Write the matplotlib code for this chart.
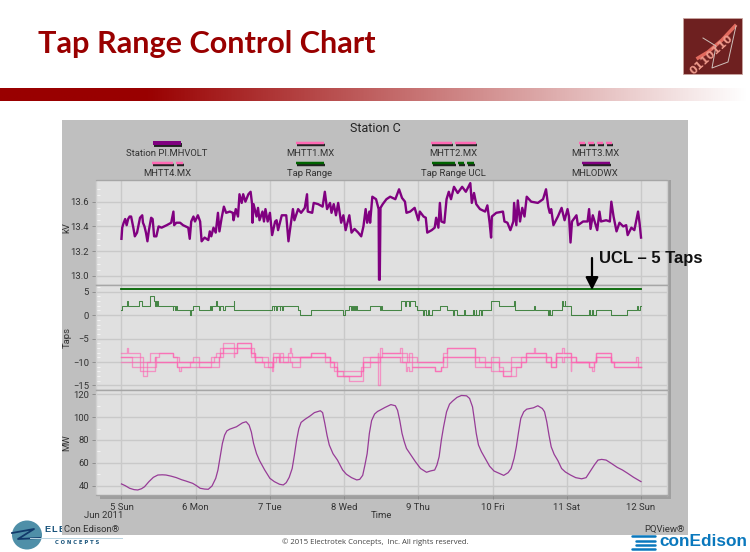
import numpy as np
import matplotlib
matplotlib.use("Agg")
import matplotlib.pyplot as plt
from matplotlib.patches import Rectangle, Ellipse

# ---- data (day of June 2011, value) ----
kv_t = [5.00,5.01,5.03,5.05,5.07,5.09,5.11,5.13,5.16,5.18,5.21,5.25,5.28,5.29,5.31,5.33,5.35,5.37,5.40,5.42,5.44,5.47,5.50,5.54,5.61,5.67,5.70,5.71,5.74,5.79,5.83,5.90,5.92,5.94,5.97,5.99,6.03,6.06,6.08,6.12,6.17,6.19,6.21,6.24,6.27,6.30,6.32,6.35,6.38,6.41,6.46,6.50,6.51,6.54,6.57,6.59,6.62,6.64,6.67,6.71,6.74,6.76,6.765,6.78,6.82,6.84,6.86,6.90,6.92,6.94,6.97,7.00,7.03,7.07,7.09,7.11,7.16,7.22,7.25,7.27,7.31,7.33,7.38,7.42,7.47,7.50,7.51,7.57,7.59,7.65,7.71,7.74,7.77,7.81,7.83,7.86,7.89,7.92,7.96,7.99,8.02,8.07,8.10,8.14,8.19,8.23,8.26,8.29,8.31,8.34,8.35,8.38,8.43,8.465,8.47,8.48,8.49,8.52,8.57,8.62,8.69,8.74,8.78,8.82,8.84,8.89,8.95,8.98,9.00,9.02,9.07,9.10,9.12,9.18,9.22,9.24,9.27,9.29,9.31,9.35,9.38,9.41,9.44,9.48,9.53,9.59,9.64,9.70,9.72,9.75,9.78,9.83,9.90,9.93,9.96,9.98,9.99,10.05,10.14,10.16,10.20,10.24,10.28,10.29,10.32,10.34,10.37,10.40,10.43,10.46,10.52,10.61,10.68,10.72,10.75,10.77,10.79,10.82,10.88,10.93,10.97,11.01,11.03,11.05,11.07,11.13,11.15,11.22,11.28,11.30,11.32,11.35,11.41,11.44,11.46,11.53,11.58,11.60,11.63,11.67,11.71,11.76,11.80,11.82,11.87,11.91,11.96,11.98,12.00]
kv_v = [13.30,13.39,13.43,13.46,13.41,13.46,13.48,13.48,13.39,13.32,13.35,13.47,13.49,13.43,13.40,13.35,13.28,13.37,13.47,13.46,13.32,13.32,13.40,13.39,13.41,13.43,13.52,13.41,13.43,13.43,13.41,13.39,13.30,13.44,13.48,13.44,13.49,13.44,13.28,13.31,13.29,13.36,13.32,13.39,13.35,13.51,13.36,13.47,13.56,13.51,13.52,13.51,13.45,13.54,13.48,13.66,13.59,13.66,13.60,13.66,13.68,13.58,13.43,13.58,13.48,13.55,13.45,13.52,13.44,13.54,13.44,13.51,13.33,13.44,13.45,13.37,13.49,13.49,13.28,13.37,13.54,13.45,13.54,13.51,13.55,13.66,13.52,13.51,13.59,13.58,13.56,13.68,13.54,13.59,13.51,13.58,13.49,13.59,13.43,13.49,13.37,13.49,13.35,13.38,13.35,13.32,13.40,13.54,13.43,13.52,13.43,13.64,13.62,13.54,12.97,12.97,13.55,13.58,13.62,13.64,13.62,13.70,13.63,13.60,13.51,13.52,13.55,13.49,13.45,13.52,13.48,13.47,13.35,13.37,13.39,13.47,13.39,13.59,13.44,13.43,13.62,13.68,13.62,13.72,13.67,13.72,13.68,13.75,13.59,13.67,13.58,13.54,13.52,13.57,13.43,13.31,13.48,13.51,13.52,13.44,13.43,13.37,13.44,13.59,13.41,13.61,13.44,13.55,13.48,13.64,13.60,13.59,13.62,13.70,13.56,13.51,13.54,13.41,13.48,13.55,13.45,13.54,13.48,13.27,13.44,13.49,13.41,13.44,13.44,13.54,13.38,13.49,13.37,13.52,13.44,13.45,13.44,13.60,13.48,13.36,13.43,13.40,13.41,13.33,13.39,13.37,13.52,13.43,13.31]

ucl_t = [5.00,12.00]
ucl_v = [5.5,5.5]

range_t = [5.00,5.01,5.08,5.085,5.24,5.28,5.39,5.44,5.45,5.46,5.47,5.48,5.49,5.69,5.70,5.72,5.73,5.75,5.92,5.94,5.97,6.05,6.19,6.20,6.22,6.28,6.29,6.31,6.33,6.37,6.39,6.51,6.52,7.03,7.05,7.06,7.08,7.09,7.13,7.14,7.16,7.17,7.38,7.40,7.56,7.99,8.01,8.07,8.09,8.10,8.12,8.13,8.15,8.16,8.18,8.28,8.35,8.48,8.50,8.51,8.53,8.76,8.82,8.83,8.88,8.89,8.95,8.98,9.06,9.08,9.10,9.13,9.15,9.18,9.22,9.29,9.38,9.47,9.48,9.52,9.62,9.625,9.74,9.75,9.77,9.78,9.82,9.85,9.86,9.91,9.98,10.08,10.29,10.30,10.34,10.56,10.565,10.74,10.76,10.78,10.80,10.85,10.94,10.95,10.97,10.98,11.05,11.30,11.31,11.34,11.35,11.40,11.59,11.81,11.95,11.96,11.98]
range_v = [1,2,3,2,3,2,4,3,2,3,2,3,2,1,2,1,2,1,0,1,2,1,2,1,2,3,2,1,2,1,2,3,1,2,1,2,1,2,1,2,1,2,1,0,1,0,1,2,1,2,1,2,1,2,1,1,2,1,2,1,1,3,2,3,2,3,2,1,0,1,0,1,0,1,1,2,1,0,1,0,1,0,1,0,1,0,1,0,1,1,3,2,3,1,1,2,1,0,1,0,1,1,3,2,3,2,0,1,0,1,0,1,0,1,2,1,2]

tap_t = [5.00,5.08,5.09,5.14,5.25,5.29,5.35,5.39,5.45,5.47,5.50,5.69,5.75,5.78,5.80,5.92,5.97,6.05,6.20,6.25,6.28,6.31,6.33,6.37,6.51,6.52,6.56,6.75,6.78,6.80,6.90,6.92,6.98,7.03,7.04,7.08,7.12,7.13,7.17,7.25,7.27,7.28,7.30,7.40,7.56,7.74,7.81,7.87,7.90,7.99,8.07,8.23,8.26,8.35,8.45,8.46,8.48,8.51,8.75,8.78,8.83,8.85,8.87,8.92,8.98,9.22,9.31,9.33,9.38,9.76,9.82,9.90,9.98,10.08,10.14,10.25,10.31,10.38,10.45,10.56,10.57,10.72,10.79,10.85,10.94,10.96,11.05,11.06,11.12,11.30,11.34,11.36,11.40,11.59,11.64,11.93,11.96,12.00]
mhtt1 = [-8,-7,-8,-8,-9,-10,-10,-8,-8,-8,-8,-9,-9,-10,-10,-10,-9,-10,-9,-9,-8,-8,-7,-6,-7,-7,-6,-7,-8,-9,-9,-9,-10,-10,-8,-8,-9,-8,-9,-8,-7,-8,-9,-9,-8,-9,-10,-10,-12,-12,-12,-11,-9,-9,-8,-9,-7,-8,-7,-8,-8,-9,-8,-9,-10,-10,-10,-8,-7,-9,-9,-10,-9,-10,-10,-9,-9,-9,-8,-7,-8,-9,-10,-8,-7,-8,-9,-9,-10,-10,-10,-10,-8,-10,-10,-9,-10,-10]
mhtt2 = [-9,-9,-9,-9,-10,-11,-10,-10,-9,-9,-8,-9,-10,-10,-10,-10,-10,-10,-10,-9,-9,-9,-8,-7,-7,-7,-6,-8,-8,-9,-10,-10,-10,-11,-9,-9,-9,-9,-9,-9,-9,-9,-9,-9,-8,-9,-10,-11,-12,-13,-13,-12,-10,-9,-9,-9,-9,-8,-8,-9,-9,-10,-9,-10,-10,-10,-10,-9,-7,-9,-10,-10,-10,-11,-12,-10,-10,-9,-8,-8,-8,-9,-10,-8,-8,-8,-9,-9,-10,-10,-10,-10,-8,-10,-10,-10,-11,-11]
mhtt3 = [-9,-9,-9,-10,-11,-12,-11,-11,-9,-10,-10,-10,-11,-11,-11,-10,-10,-11,-10,-10,-10,-9,-8,-7,-7,-8,-7,-8,-9,-10,-10,-10,-11,-11,-9,-9,-10,-9,-10,-9,-10,-10,-10,-9,-9,-9,-10,-11,-13,-13,-13,-12,-10,-10,-9,-10,-9,-9,-9,-10,-10,-10,-10,-11,-11,-12,-11,-9,-9,-10,-10,-11,-10,-12,-13,-11,-11,-10,-9,-9,-9,-10,-11,-9,-9,-9,-9,-10,-10,-11,-11,-10,-9,-10,-11,-11,-11,-11]
mhtt4 = [-10,-10,-10,-11,-12,-13,-12,-12,-11,-10,-10,-10,-11,-12,-11,-11,-11,-11,-11,-11,-11,-9,-9,-8,-9,-8,-7,-9,-9,-10,-10,-11,-11,-12,-10,-9,-10,-10,-10,-10,-10,-10,-11,-9,-9,-10,-11,-12,-13,-13,-14,-14,-11,-10,-10,-15,-9,-9,-10,-10,-12,-11,-12,-11,-11,-12,-11,-11,-9,-11,-11,-11,-12,-12,-13,-13,-11,-10,-9,-9,-9,-10,-11,-9,-10,-9,-12,-10,-10,-11,-12,-10,-9,-10,-11,-11,-11,-11]

mw_t = [5.00,5.05,5.11,5.17,5.22,5.27,5.31,5.37,5.43,5.49,5.55,5.60,5.67,5.74,5.81,5.87,5.96,6.01,6.06,6.12,6.17,6.22,6.27,6.30,6.33,6.36,6.39,6.42,6.46,6.55,6.63,6.68,6.72,6.75,6.78,6.82,6.86,6.93,7.00,7.06,7.13,7.18,7.22,7.26,7.30,7.33,7.36,7.39,7.42,7.47,7.54,7.60,7.68,7.71,7.74,7.77,7.80,7.85,7.91,7.98,8.03,8.10,8.17,8.21,8.25,8.28,8.31,8.34,8.37,8.41,8.45,8.48,8.55,8.63,8.69,8.72,8.75,8.78,8.81,8.84,8.90,8.96,9.03,9.11,9.16,9.22,9.25,9.28,9.31,9.34,9.38,9.42,9.46,9.52,9.58,9.65,9.69,9.73,9.75,9.78,9.81,9.85,9.90,9.96,10.02,10.09,10.15,10.21,10.25,10.29,10.32,10.35,10.38,10.42,10.46,10.55,10.61,10.67,10.70,10.73,10.76,10.79,10.83,10.88,10.93,10.98,11.05,11.12,11.20,11.26,11.31,11.37,11.42,11.47,11.53,11.60,11.68,11.75,11.82,11.90,12.00]
mw_v = [41.5,40,37.7,36.5,36.2,37.3,39,43.5,47.3,49.3,49.5,49.3,48.3,47,45.2,44,42,40,37.7,37,36.8,39.7,46.4,53.7,65.4,77,84.3,88,89.5,91.6,95,96,93,87,77,68,62,53.7,46.4,43.5,41.2,40.6,42.6,47.3,55,66.8,80,90,95.4,98,101,104,105.6,104,94.5,84,75.6,68,62.4,53.7,50,47,45,45.5,49,58,68,85.8,97,102.7,105,106,108.5,111,110,106,97,85.8,78.5,72.6,66.8,61,55,51.7,52.8,53.7,58,65.4,80,91.6,104.7,111.4,114,117.3,119,118.7,116.4,109,100,85.8,75.6,69.7,64,57,52.8,50.8,49,51.4,55,64,74,87,98.9,104.7,107,108.2,110,107.6,104.7,96,84.3,74,67.4,61.9,55,52,49.3,47,46,47,52,58,62.4,63,62.4,59.5,56,53.7,50.8,47.3,43.5]

day_ticks = [5,6,7,8,9,10,11,12]
day_labels = ["5 Sun","6 Mon","7 Tue","8 Wed","9 Thu","10 Fri","11 Sat","12 Sun"]
kv_ticks = [13.0,13.2,13.4,13.6]
tap_ticks = [-15,-10,-5,0,5]
mw_ticks = [40,60,80,100,120]

W, H = 750, 552
FONT = "Roboto"
PURPLE = "#800080"; PINK = "#ff69b4"; GREEN = "#1f701f"; DGREEN = "#006400"; TXT = "#333333"

fig = plt.figure(figsize=(7.5, 5.52), dpi=100, facecolor="white")
bg = fig.add_axes([0, 0, 1, 1], zorder=0)
bg.set_xlim(0, W); bg.set_ylim(H, 0); bg.axis("off")

# red gradient band
grad = np.ones((1, 256, 4)); grad[..., 0] = 0.6; grad[..., 1] = 0; grad[..., 2] = 0
grad[..., 3] = np.concatenate([np.ones(50), np.linspace(1, 0, 206)])
bg.imshow(grad, extent=[0, W, 101, 88], aspect="auto", zorder=1)
bg.set_xlim(0, W); bg.set_ylim(H, 0)
bg.text(38, 44, "Tap Range Control Chart", family="Lato", weight="bold", fontsize=22.1,
        color="#990000", va="center", ha="left")

# corner picture
bg.add_patch(Rectangle((683, 18), 59, 56, fc="#6e2020", ec="#c9a5a0", lw=0.6, zorder=2))
bg.plot([698, 708, 722, 735], [58, 52, 40, 26], color="#e26a5e", lw=2.5, zorder=3)
bg.plot([703, 716, 712, 728, 736], [38, 46, 68, 62, 26], color="#cfc2bc", lw=0.7, zorder=3)
bg.text(712, 55, "0110110", color="#ee9a8c", fontsize=8, weight="bold", rotation=42,
        ha="center", va="center", zorder=3)

# Electrotek logo
bg.add_patch(Ellipse((27, 535), 30, 29, fc="#4f8fa8", ec="none", zorder=2))
bg.plot([12, 34, 18, 40], [533, 529, 539, 538], color="#123a6b", lw=1.3, zorder=3)
bg.plot([30, 122], [538, 538], color="#b9d3e0", lw=0.7, zorder=3)
for lx, ch in zip([44, 51, 58], "ELE"):
    bg.text(lx, 530, ch, color="#17527a", fontsize=6.6, family="Liberation Sans", weight="bold",
            va="center", zorder=3)
bg.text(55, 543, "C O N C E P T S", color="#17527a", fontsize=3.8, weight="bold", va="center", zorder=3)

# grey chart panel and shadow
bg.add_patch(Rectangle((62, 120), 626, 415, fc="#bfbfbf", ec="none", zorder=5))
bg.add_patch(Rectangle((100, 180), 571, 319, fc="#9f9f9f", ec="none", zorder=6))

# footer
bg.text(375, 542, "© 2015 Electrotek Concepts,  Inc. All rights reserved.", family="Open Sans",
        fontsize=5.6, color="#444444", ha="center", va="center", zorder=6)
bg.text(659, 542, "conEdison", family="Liberation Sans", weight="bold", fontsize=12.4,
        color="#0a78bd", ha="left", va="center", zorder=7)
for yy, x0 in [(536, 632), (541, 636), (545, 636), (549, 632)]:
    bg.plot([x0, 655], [yy, yy], color="#0a78bd", lw=1.8, solid_capstyle="round", zorder=7)

def panel(top, bottom, ylim, ticks, ylabel, ly):
    ax = fig.add_axes([96 / W, 1 - bottom / H, 571 / W, (bottom - top) / H], zorder=2)
    ax.set_facecolor("#e0e0e0")
    ax.set_xlim(4.657, 12.35); ax.set_ylim(*ylim)
    ax.set_xticks(day_ticks); ax.set_yticks(ticks)
    ax.grid(True, color="#c9c9c9", lw=1.0, zorder=0)
    ax.set_axisbelow(True)
    ax.tick_params(axis="x", length=0, labelbottom=False)
    ax.tick_params(axis="y", length=3, width=0.6, color="#888888", labelsize=6.8, labelcolor=TXT, pad=2)
    for lab in ax.get_yticklabels():
        lab.set_family(FONT)
    for s, sp in ax.spines.items():
        sp.set_color("#a6a6a6" if s in ("top", "bottom") else "#cfcfcf")
        sp.set_linewidth(1.0)
    fig.text(67 / W, 1 - ly / H, ylabel, rotation=90, family=FONT, fontsize=6.8, color=TXT,
             ha="center", va="center", zorder=8)
    return ax

ax1 = panel(180, 285, (12.927, 13.775), kv_ticks, "kV", 228)
ax2 = panel(285, 390, (-15.96, 6.43), tap_ticks, "Taps", 337)
ax3 = panel(390, 495, (31.8, 123.8), mw_ticks, "MW", 443)
ax1.set_yticks([13.05, 13.1, 13.15, 13.25, 13.3, 13.35, 13.45, 13.5, 13.55, 13.65, 13.7], minor=True)
ax2.set_yticks([-14, -13, -12, -11, -9, -8, -7, -6, -4, -3, -2, -1, 1, 2, 3, 4, 6], minor=True)
ax3.set_yticks([50, 70, 90, 110], minor=True)
for a in (ax1, ax2, ax3):
    a.tick_params(axis="y", which="minor", direction="in", length=3, width=0.7, color="#f4f4f4")

ax1.plot(kv_t, kv_v, color=PURPLE, lw=1.7, solid_joinstyle="round", zorder=3)

ax2.plot(ucl_t, ucl_v, color=DGREEN, lw=1.3, zorder=3)
ax2.step(range_t + [12.0], range_v + [range_v[-1]], where="post", color=GREEN, lw=0.75, alpha=0.8, zorder=3)
for s in (mhtt1, mhtt2, mhtt3, mhtt4):
    ax2.step(tap_t, s, where="post", color="#ff5fb0", lw=0.95, alpha=0.6, zorder=3)

ax3.plot(mw_t, mw_v, color="#8f2a8f", lw=0.9, alpha=0.9, zorder=3)

# x labels drawn on the bottom axes
ax3.tick_params(axis="x", length=3, width=0.6, color="#888888", labelbottom=True,
                labelsize=6.8, labelcolor=TXT, pad=2.5)
ax3.set_xticklabels(day_labels, family=FONT)

# overlay: chart texts, legend, annotation
ov = fig.add_axes([0, 0, 1, 1], zorder=5)
ov.set_xlim(0, W); ov.set_ylim(H, 0); ov.axis("off"); ov.patch.set_alpha(0)
ov.text(375, 129, "Station C", family=FONT, fontsize=9, color="#222222", ha="center", va="center")
ov.text(104, 516, "Jun 2011", family=FONT, fontsize=6.8, color=TXT, ha="center", va="center")
ov.text(381, 516, "Time", family=FONT, fontsize=6.8, color=TXT, ha="center", va="center")
ov.text(64, 529, "Con Edison®", family=FONT, fontsize=6.8, color=TXT, ha="left", va="center")
ov.text(685, 529, "PQView®", family=FONT, fontsize=6.8, color=TXT, ha="right", va="center")

legend_rows = [
    (153, 143, [("Station PI.MHVOLT", 167, PURPLE, 4, [(153, 181)]),
                ("MHTT1.MX", 310, PINK, 2.5, [(296, 324)]),
                ("MHTT2.MX", 453, PINK, 2.5, [(431, 452), (455, 476)]),
                ("MHTT3.MX", 595, PINK, 2.5, [(579, 585), (588, 594), (597, 603), (606, 612)])]),
    (173, 163, [("MHTT4.MX", 167, PINK, 2.5, [(152, 173), (176, 183)]),
                ("Tap Range", 310, DGREEN, 2.5, [(296, 324)]),
                ("Tap Range UCL", 453, DGREEN, 2.5, [(432, 455), (458, 464), (467, 474)]),
                ("MHLODWX", 595, PURPLE, 2.5, [(582, 610)])]),
]
for ty, sy, items in legend_rows:
    for label, cx, col, lw, segs in items:
        ov.text(cx, ty, label, family=FONT, fontsize=6.8, color=TXT, ha="center", va="center")
        for x0, x1 in segs:
            ov.plot([x0 + 1, x1 + 1], [sy + 1.5, sy + 1.5], color="#222222", lw=lw * 0.7,
                    solid_capstyle="butt")
            ov.plot([x0, x1], [sy, sy], color=col, lw=lw * 0.72, solid_capstyle="butt")

ov.annotate("", xy=(592, 290), xytext=(592, 258),
            arrowprops=dict(arrowstyle="-|>,head_width=0.38,head_length=0.75", color="black", lw=1.6,
                            shrinkA=0, shrinkB=0))
ov.text(599, 259, "UCL – 5 Taps", family="Liberation Sans", weight="bold", fontsize=12,
        color="#111111", ha="left", va="center")

fig.savefig("out.png", dpi=100, facecolor="white")
